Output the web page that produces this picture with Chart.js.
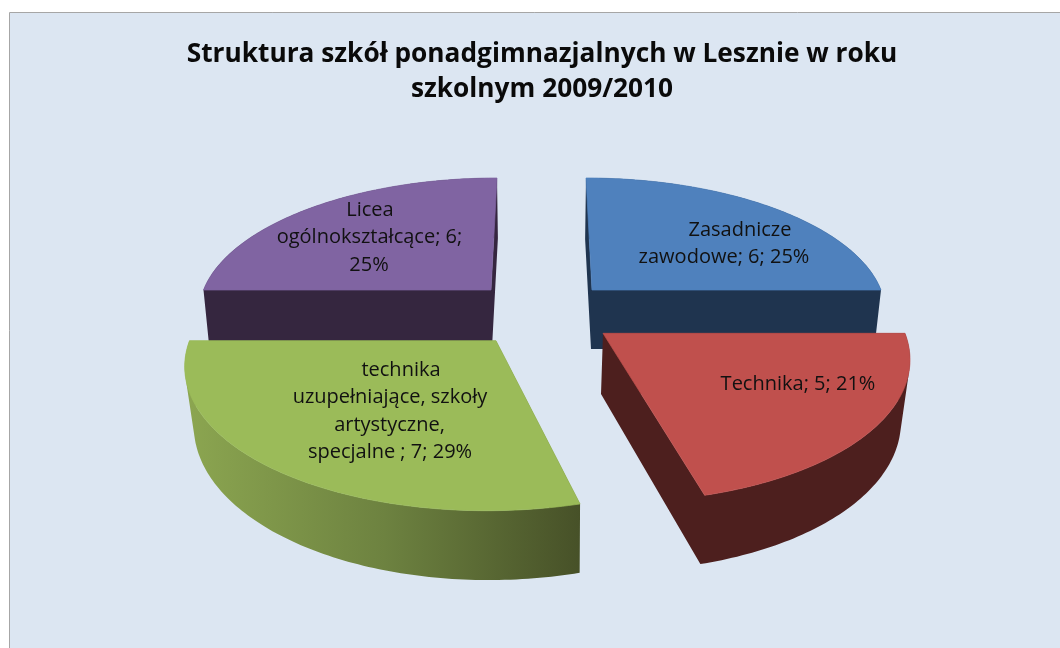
<!DOCTYPE html>
<html lang="pl">
<head>
<meta charset="utf-8">
<title>Struktura szkół</title>
<style>html,body{margin:0;padding:0;background:#fff;overflow:hidden}canvas{display:block;filter:blur(.4px)}</style>
<script src="https://cdn.jsdelivr.net/npm/chart.js@4/dist/chart.umd.min.js"></script>
</head>
<body>
<canvas id="c" width="1060" height="648"></canvas>
<script>
const titleLines = ['Struktura szkół ponadgimnazjalnych w Lesznie w roku', 'szkolnym 2009/2010'];
const categories = ['Zasadnicze zawodowe', 'Technika', 'technika uzupełniające, szkoły artystyczne, specjalne', 'Licea ogólnokształcące'];
const values = [6, 5, 7, 6];
const topColors = ['#4f81bd', '#c0504d', '#9bbb59', '#8064a2'];
const labelLines = [
  ['Zasadnicze', 'zawodowe; 6; 25%'],
  ['Technika; 5; 21%'],
  ['technika', 'uzupełniające, szkoły', 'artystyczne,', 'specjalne ; 7; 29%'],
  ['Licea', 'ogólnokształcące; 6;', '25%']
];
const FONT = '"Open Sans", Lato, sans-serif';

// How each exploded wedge is projected: perspective view of a flat wedge plus its extruded base
const views = [
  {cx:592, cy:290,   a:289,   b:6.9,  c:128.8, k:.15, bx:591,   by:349, sx:.98,  sy:.98,  wall:'#1f344f',
   text:[[740,230],[724,257]]},
  {cx:603, cy:333.3, a:302,   b:9.1,  c:143.4, k:.15, bx:601,   by:394, sx:.977, sy:1.05, wall:'#4d1f1e',
   text:[[798,384]]},
  {cx:496, cy:340.7, a:306.5, b:-7.7, c:144.5, k:.15, bx:497.6, by:398, sx:.976, sy:1.071, wall:'gradient',
   text:[[401,370],[390,397],[389.5,425],[390,452]]},
  {cx:491, cy:290,   a:287.5, b:-6.9, c:128.8, k:.15, bx:492,   by:348, sx:.983, sy:.98,  wall:'#35263f',
   text:[[370,210],[369.5,237],[369,265]]}
];
const drawOrder = [3, 0, 2, 1];

function project(v, angle) {
  const t = angle + Math.PI / 2, X = Math.sin(t), Y = -Math.cos(t), w = 1 - v.k * Y;
  return {x: (v.a * X + v.b * Y) / w, y: v.c * Y / w};
}
function outline(v, arc) {
  const pts = [{x: 0, y: 0}], n = Math.ceil((arc.endAngle - arc.startAngle) * 60);
  for (let i = 0; i <= n; i++) pts.push(project(v, arc.startAngle + (arc.endAngle - arc.startAngle) * i / n));
  pts.push({x: 0, y: 0});
  return pts;
}

const pie3d = {
  id: 'pie3d',
  beforeDraw(chart) {
    const ctx = chart.ctx;
    ctx.save();
    ctx.fillStyle = '#dce6f2';
    ctx.fillRect(10, 12, 1060, 648);
    ctx.strokeStyle = '#a6a6a6';
    ctx.lineWidth = 1;
    ctx.beginPath();
    ctx.moveTo(9.5, 648); ctx.lineTo(9.5, 12.5); ctx.lineTo(1060, 12.5);
    ctx.stroke();
    ctx.restore();
  },
  beforeDatasetsDraw(chart) {
    const ctx = chart.ctx, arcs = chart.getDatasetMeta(0).data;
    ctx.save();
    drawOrder.forEach(i => {
      const v = views[i], pts = outline(v, arcs[i]);
      let wall = v.wall;
      if (wall === 'gradient') {
        wall = ctx.createLinearGradient(190, 0, 580, 0);
        wall.addColorStop(0, '#8ba550');
        wall.addColorStop(.5, '#6d8240');
        wall.addColorStop(1, '#475128');
      }
      ctx.fillStyle = wall;
      ctx.beginPath();
      for (let j = 0; j < pts.length - 1; j++) {
        const p = pts[j], q = pts[j + 1];
        let quad = [
          [v.cx + p.x, v.cy + p.y], [v.cx + q.x, v.cy + q.y],
          [v.bx + q.x * v.sx, v.by + q.y * v.sy], [v.bx + p.x * v.sx, v.by + p.y * v.sy]
        ];
        let area = 0;
        quad.forEach((a, m) => { const b = quad[(m + 1) % 4]; area += a[0] * b[1] - b[0] * a[1]; });
        if (area < 0) quad = quad.reverse();
        quad.forEach((a, m) => m ? ctx.lineTo(a[0], a[1]) : ctx.moveTo(a[0], a[1]));
        ctx.closePath();
      }
      ctx.fill('nonzero');
      ctx.beginPath();
      pts.forEach((p, j) => j ? ctx.lineTo(v.cx + p.x, v.cy + p.y) : ctx.moveTo(v.cx + p.x, v.cy + p.y));
      ctx.closePath();
      ctx.fillStyle = topColors[i];
      ctx.strokeStyle = topColors[i];
      ctx.lineWidth = .7;
      ctx.fill();
      ctx.stroke();
    });
    ctx.fillStyle = '#111';
    ctx.font = '20px ' + FONT;
    ctx.textAlign = 'center';
    ctx.textBaseline = 'middle';
    labelLines.forEach((lines, i) => lines.forEach((s, j) => {
      const [x, y] = views[i].text[j];
      ctx.fillText(s, x, y + 0.5);
    }));
    ctx.restore();
    return false;
  }
};

new Chart(document.getElementById('c'), {
  type: 'pie',
  data: {labels: categories, datasets: [{data: values, backgroundColor: topColors, borderWidth: 0}]},
  options: {
    responsive: false,
    animation: false,
    layout: {padding: {left: 24, top: 37, right: 0, bottom: 0}},
    plugins: {
      legend: {display: false},
      tooltip: {enabled: false},
      title: {
        display: true,
        text: titleLines,
        color: '#0a0a0a',
        font: {family: FONT, size: 26.25, weight: 'bold', lineHeight: 1.34},
        padding: 0
      }
    }
  },
  plugins: [pie3d]
});
</script>
</body>
</html>
